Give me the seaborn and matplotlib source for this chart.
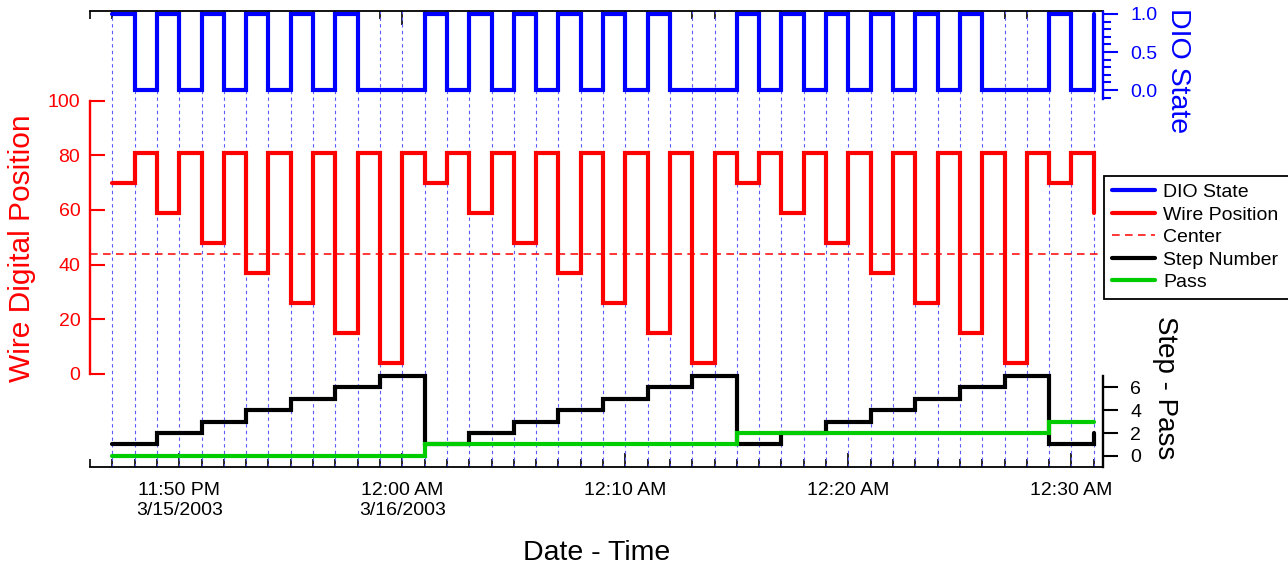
import matplotlib
matplotlib.use("Agg")
import matplotlib.dates as mdates
import matplotlib.pyplot as plt
import matplotlib.ticker as mticker
import pandas as pd
import seaborn as sns

# one sample per minute, 11:47 PM 3/15/2003 to 12:31 AM 3/16/2003
times = ["2003-03-15 23:47", "2003-03-15 23:48", "2003-03-15 23:49", "2003-03-15 23:50", "2003-03-15 23:51",
         "2003-03-15 23:52", "2003-03-15 23:53", "2003-03-15 23:54", "2003-03-15 23:55", "2003-03-15 23:56",
         "2003-03-15 23:57", "2003-03-15 23:58", "2003-03-15 23:59", "2003-03-16 00:00", "2003-03-16 00:01",
         "2003-03-16 00:02", "2003-03-16 00:03", "2003-03-16 00:04", "2003-03-16 00:05", "2003-03-16 00:06",
         "2003-03-16 00:07", "2003-03-16 00:08", "2003-03-16 00:09", "2003-03-16 00:10", "2003-03-16 00:11",
         "2003-03-16 00:12", "2003-03-16 00:13", "2003-03-16 00:14", "2003-03-16 00:15", "2003-03-16 00:16",
         "2003-03-16 00:17", "2003-03-16 00:18", "2003-03-16 00:19", "2003-03-16 00:20", "2003-03-16 00:21",
         "2003-03-16 00:22", "2003-03-16 00:23", "2003-03-16 00:24", "2003-03-16 00:25", "2003-03-16 00:26",
         "2003-03-16 00:27", "2003-03-16 00:28", "2003-03-16 00:29", "2003-03-16 00:30", "2003-03-16 00:31"]

dio_state = [1, 0, 1, 0, 1, 0, 1, 0, 1, 0, 1, 0, 0, 0,
             1, 0, 1, 0, 1, 0, 1, 0, 1, 0, 1, 0, 0, 0,
             1, 0, 1, 0, 1, 0, 1, 0, 1, 0, 1, 0, 0, 0,
             1, 0, 1]

wire_position = [70, 81, 59, 81, 48, 81, 37, 81, 26, 81, 15, 81, 4, 81,
                 70, 81, 59, 81, 48, 81, 37, 81, 26, 81, 15, 81, 4, 81,
                 70, 81, 59, 81, 48, 81, 37, 81, 26, 81, 15, 81, 4, 81,
                 70, 81, 59]

step_number = [1, 1, 2, 2, 3, 3, 4, 4, 5, 5, 6, 6, 7, 7,
               1, 1, 2, 2, 3, 3, 4, 4, 5, 5, 6, 6, 7, 7,
               1, 1, 2, 2, 3, 3, 4, 4, 5, 5, 6, 6, 7, 7,
               1, 1, 2]

pass_number = [0, 0, 0, 0, 0, 0, 0, 0, 0, 0, 0, 0, 0, 0,
               1, 1, 1, 1, 1, 1, 1, 1, 1, 1, 1, 1, 1, 1,
               2, 2, 2, 2, 2, 2, 2, 2, 2, 2, 2, 2, 2, 2,
               3, 3, 3]

center_position = 44

x_start = "2003-03-15 23:46:00"
x_end = "2003-03-16 00:31:24"

W, H = 1288, 567
GREEN = "#00cc00"


def px_box(left, top, right, bottom):
    """Convert a pixel box of the 1288x567 canvas to figure fractions."""
    return [left / W, 1 - bottom / H, (right - left) / W, (bottom - top) / H]


def time_label(x, pos):
    d = mdates.num2date(x)
    text = d.strftime("%I:%M %p")
    first = x - mdates.date2num(pd.Timestamp(x_start)) < 10 / 1440.0
    if first or (d.hour == 0 and d.minute == 0):
        text += "\n{}/{}/{}".format(d.month, d.day, d.year)
    return text


def strip_axes(ax, keep):
    ax.patch.set_visible(False)
    for side in ["left", "right", "top", "bottom"]:
        ax.spines[side].set_visible(side == keep)
    ax.tick_params(axis="x", which="both", bottom=False, top=False, labelbottom=False)
    ax.set_xlabel("")


sns.set_style("white")
plt.rcParams["font.family"] = ["Liberation Sans", "DejaVu Sans"]
plt.rcParams["text.color"] = "black"
plt.rcParams["axes.labelcolor"] = "black"
plt.rcParams["xtick.color"] = "black"
plt.rcParams["ytick.color"] = "black"

t = pd.to_datetime(times)
df = pd.DataFrame({"time": t, "dio": dio_state, "wire": wire_position,
                   "step": step_number, "pass": pass_number})

fig = plt.figure(figsize=(W / 100, H / 100), dpi=100)

# frame with the minute grid and the time axis
bg = fig.add_axes(px_box(90, 10.5, 1102.7, 467))
bg.vlines(df["time"], 0, 1, transform=bg.get_xaxis_transform(), colors="#5a5aff",
          linestyles=(0, (3, 3)), linewidth=0.8)
bg.set_xlim(pd.Timestamp(x_start), pd.Timestamp(x_end))
bg.set_ylim(0, 1)
bg.set_yticks([])
bg.spines["left"].set_visible(False)
bg.spines["right"].set_visible(False)
for side in ["top", "bottom"]:
    bg.spines[side].set_linewidth(1.3)
    bg.spines[side].set_color("black")
bg.xaxis.set_major_locator(mdates.MinuteLocator(byminute=range(0, 60, 10)))
bg.xaxis.set_minor_locator(mdates.MinuteLocator())
bg.xaxis.set_major_formatter(mticker.FuncFormatter(time_label))
bg.tick_params(axis="x", which="both", direction="in", top=True, bottom=True, width=1.2,
               color="black", labelcolor="black", labelsize=14, pad=11)
bg.tick_params(axis="x", which="major", length=10)
bg.tick_params(axis="x", which="minor", length=5.8)
bg.set_xlabel("Date - Time", fontsize=20.5, color="black", va="center")
bg.xaxis.set_label_coords(0.5, -(553 - 467) / 456.5)

# DIO state strip
ax_dio = fig.add_axes(px_box(90, 11.7, 1102.7, 99), sharex=bg)
sns.lineplot(data=df, x="time", y="dio", ax=ax_dio, estimator=None, color="blue", linewidth=3,
             drawstyle="steps-post", solid_joinstyle="miter", clip_on=False, label="DIO State")
strip_axes(ax_dio, "right")
ax_dio.spines["right"].set_color("blue")
ax_dio.spines["right"].set_linewidth(1.7)
ax_dio.set_ylim(-0.118, 1.03)
ax_dio.yaxis.set_major_locator(mticker.FixedLocator([0.0, 0.5, 1.0]))
ax_dio.yaxis.set_major_formatter(mticker.FormatStrFormatter("%.1f"))
ax_dio.yaxis.set_minor_locator(mticker.MultipleLocator(0.1))
ax_dio.yaxis.tick_right()
ax_dio.tick_params(axis="y", which="both", direction="out", left=False, right=True,
                   colors="blue", width=1.5, labelsize=14, pad=9)
ax_dio.tick_params(axis="y", which="major", length=11)
ax_dio.tick_params(axis="y", which="minor", length=5.8)
ax_dio.yaxis.set_label_position("right")
ax_dio.set_ylabel("DIO State", color="blue", fontsize=20.5, rotation=-90, va="center", ha="center")
ax_dio.yaxis.set_label_coords((1178 - 90) / 1012.7, (99 - 71) / 87.3)

# wire position strip
ax_wire = fig.add_axes(px_box(90, 101, 1102.7, 373.5), sharex=bg)
sns.lineplot(data=df, x="time", y="wire", ax=ax_wire, estimator=None, color="red", linewidth=3,
             drawstyle="steps-post", solid_joinstyle="miter", clip_on=False, label="Wire Position")
ax_wire.axhline(center_position, color="red", linewidth=1.1, linestyle=(0, (5, 3.5)), label="Center")
strip_axes(ax_wire, "left")
ax_wire.spines["left"].set_color("red")
ax_wire.spines["left"].set_linewidth(1.7)
ax_wire.set_ylim(0, 100)
ax_wire.set_yticks(range(0, 101, 20))
ax_wire.tick_params(axis="y", direction="in", left=True, right=False, colors="red",
                    length=11, width=1.5, labelsize=14, pad=7)
ax_wire.set_ylabel("Wire Digital Position", color="red", fontsize=21.5, va="center", ha="center")
ax_wire.yaxis.set_label_coords((22 - 90) / 1012.7, (373.5 - 248) / 272.5)

# step number / pass strip
ax_step = fig.add_axes(px_box(90, 376, 1102.7, 467), sharex=bg)
sns.lineplot(data=df, x="time", y="step", ax=ax_step, estimator=None, color="black", linewidth=3,
             drawstyle="steps-post", solid_joinstyle="miter", clip_on=False, label="Step Number")
sns.lineplot(data=df, x="time", y="pass", ax=ax_step, estimator=None, color=GREEN, linewidth=3,
             drawstyle="steps-post", solid_joinstyle="miter", clip_on=False, label="Pass")
strip_axes(ax_step, "right")
ax_step.spines["right"].set_color("black")
ax_step.spines["right"].set_linewidth(1.7)
ax_step.set_ylim(-0.98, 7.0)
ax_step.set_yticks([0, 2, 4, 6])
ax_step.yaxis.tick_right()
ax_step.tick_params(axis="y", direction="out", left=False, right=True, colors="black",
                    length=11, width=1.5, labelsize=14, pad=9)
ax_step.yaxis.set_label_position("right")
ax_step.set_ylabel("Step - Pass", color="black", fontsize=20, rotation=-90, va="center", ha="center")
ax_step.yaxis.set_label_coords((1165 - 90) / 1012.7, (467 - 388) / 91)

# one legend for all strips, running off the right edge like the original
handles, labels = [], []
for ax in [ax_dio, ax_wire, ax_step]:
    h, l = ax.get_legend_handles_labels()
    handles += h
    labels += l
    if ax.get_legend() is not None:
        ax.get_legend().remove()

leg = fig.legend(handles, labels, loc="upper left", mode="expand",
                 bbox_to_anchor=(1104 / W, 1 - 175.7 / H, 200 / W, 0),
                 fontsize=14, frameon=True, fancybox=False, shadow=False, framealpha=1,
                 edgecolor="black", borderaxespad=0, borderpad=0.4, handlelength=2.2,
                 handletextpad=0.45, labelspacing=0.25)
leg.get_frame().set_linewidth(1.3)

fig.savefig("out.png", dpi=100)
